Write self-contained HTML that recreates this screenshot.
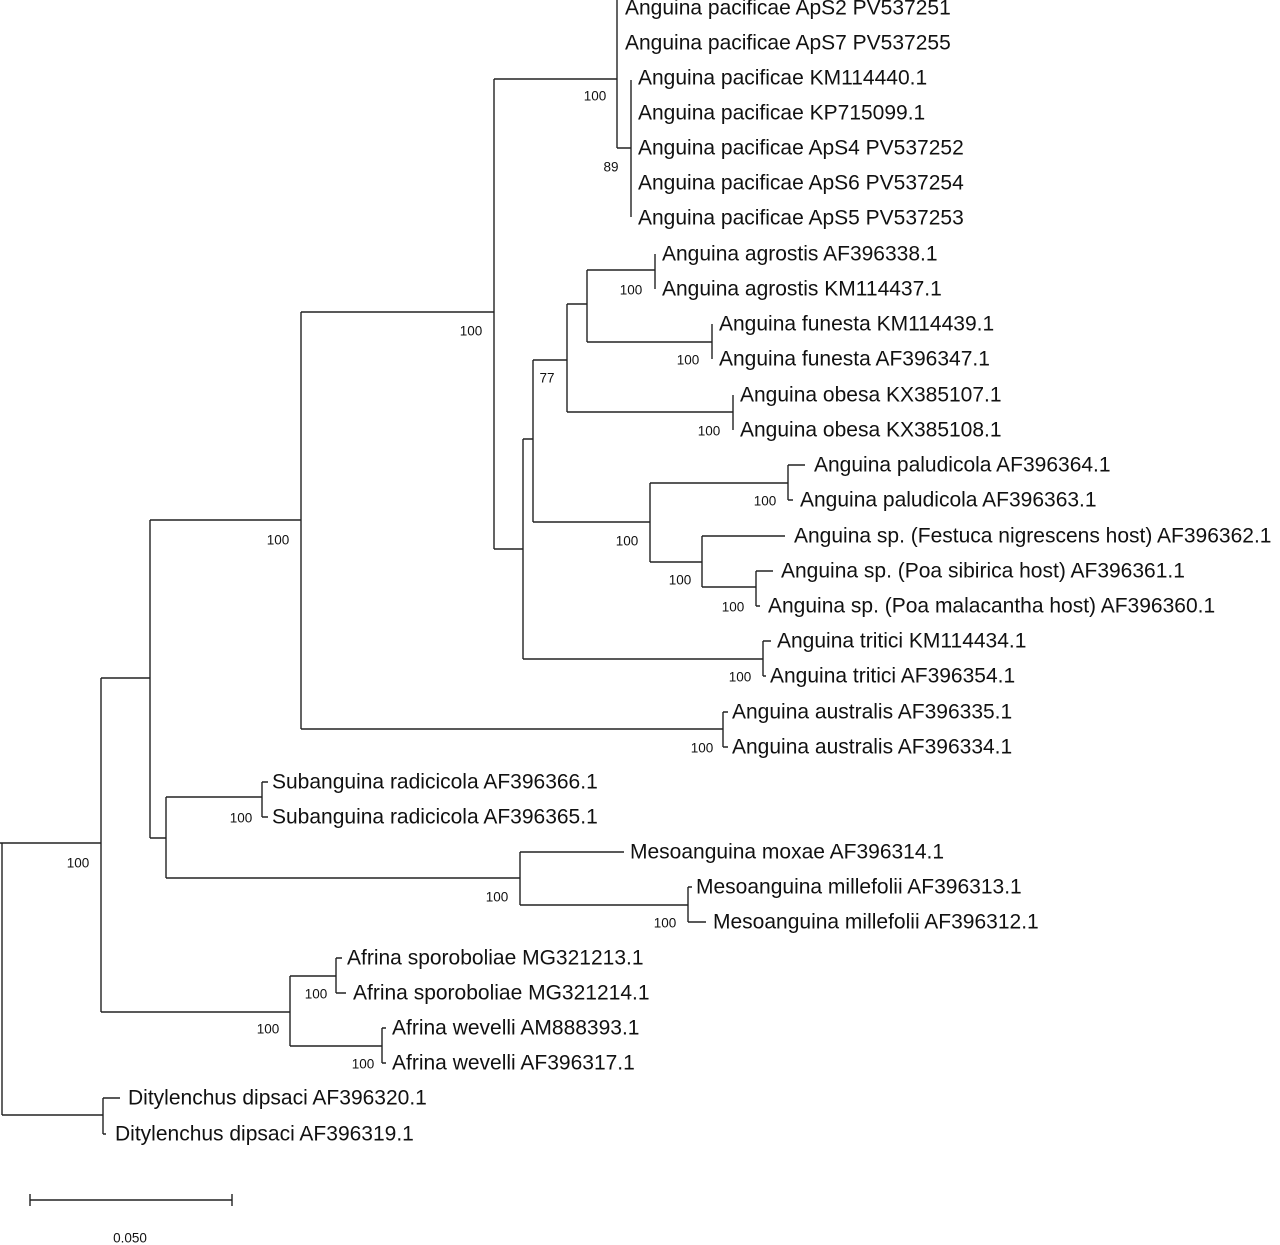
<!DOCTYPE html>
<html><head><meta charset="utf-8"><style>
html,body{margin:0;padding:0;background:#fff;}
svg{display:block;}
.l{font-family:"Liberation Sans",Arial,sans-serif;font-size:21px;fill:#111;dominant-baseline:central;}
.s{font-family:"Liberation Sans",Arial,sans-serif;font-size:13.5px;fill:#111;dominant-baseline:central;}
</style></head><body>
<svg width="1280" height="1245" viewBox="0 0 1280 1245" xmlns="http://www.w3.org/2000/svg">
<g stroke="#222" stroke-width="1.4" fill="none">
<path d="M2 843V1115M0 843H101M2 1115H103"/>
<path d="M101 678V1012M101 678H150M101 1012H290"/>
<path d="M150 520V838M150 520H301M150 838H166"/>
<path d="M166 797V878M166 797H262M166 878H520"/>
<path d="M262 782V817M262 782H268M262 817H268"/>
<path d="M520 852V905M520 852H624M520 905H688"/>
<path d="M688 887V922M688 887H692M688 922H706"/>
<path d="M290 976V1046M290 976H336M290 1046H382"/>
<path d="M336 958V993M336 958H342M336 993H346"/>
<path d="M382 1028V1063M382 1028H386M382 1063H386"/>
<path d="M103 1098V1134M103 1098H120M103 1134H106"/>
<path d="M301 312V729M301 312H494M301 729H723"/>
<path d="M723 712V747M723 712H728M723 747H728"/>
<path d="M494 79V549M494 79H617M494 549H523"/>
<path d="M617 0V148M617 148H631M631 80V217"/>
<path d="M523 439V659M523 439H533M523 659H763"/>
<path d="M763 641V676M763 641H771M763 676H766"/>
<path d="M533 360V522M533 360H567M533 522H650"/>
<path d="M567 304V412M567 304H587M567 412H733"/>
<path d="M587 270V342M587 270H655M587 342H712"/>
<path d="M655 254V289M712 324V359M733 395V430"/>
<path d="M650 483V562M650 483H788M650 562H702"/>
<path d="M788 465V500M788 465H805M788 500H793"/>
<path d="M702 536V587M702 536H785M702 587H756"/>
<path d="M756 571V606M756 571H773M756 606H760"/>
<path d="M30 1200H232M30 1194V1206M232 1194V1206"/>
</g>
<g class="l">
<text x="625" y="8">Anguina pacificae ApS2 PV537251</text>
<text x="625" y="43">Anguina pacificae ApS7 PV537255</text>
<text x="638" y="78">Anguina pacificae KM114440.1</text>
<text x="638" y="113">Anguina pacificae KP715099.1</text>
<text x="638" y="148">Anguina pacificae ApS4 PV537252</text>
<text x="638" y="183">Anguina pacificae ApS6 PV537254</text>
<text x="638" y="218">Anguina pacificae ApS5 PV537253</text>
<text x="662" y="254">Anguina agrostis AF396338.1</text>
<text x="662" y="289">Anguina agrostis KM114437.1</text>
<text x="719" y="324">Anguina funesta KM114439.1</text>
<text x="719" y="359">Anguina funesta AF396347.1</text>
<text x="740" y="395">Anguina obesa KX385107.1</text>
<text x="740" y="430">Anguina obesa KX385108.1</text>
<text x="814" y="465">Anguina paludicola AF396364.1</text>
<text x="800" y="500">Anguina paludicola AF396363.1</text>
<text x="794" y="536">Anguina sp. (Festuca nigrescens host) AF396362.1</text>
<text x="781" y="571">Anguina sp. (Poa sibirica host) AF396361.1</text>
<text x="768" y="606">Anguina sp. (Poa malacantha host) AF396360.1</text>
<text x="777" y="641">Anguina tritici KM114434.1</text>
<text x="770" y="676">Anguina tritici AF396354.1</text>
<text x="732" y="712">Anguina australis AF396335.1</text>
<text x="732" y="747">Anguina australis AF396334.1</text>
<text x="272" y="782">Subanguina radicicola AF396366.1</text>
<text x="272" y="817">Subanguina radicicola AF396365.1</text>
<text x="630" y="852">Mesoanguina moxae AF396314.1</text>
<text x="696" y="887">Mesoanguina millefolii AF396313.1</text>
<text x="713" y="922">Mesoanguina millefolii AF396312.1</text>
<text x="347" y="958">Afrina sporoboliae MG321213.1</text>
<text x="353" y="993">Afrina sporoboliae MG321214.1</text>
<text x="392" y="1028">Afrina wevelli AM888393.1</text>
<text x="392" y="1063">Afrina wevelli AF396317.1</text>
<text x="128" y="1098">Ditylenchus dipsaci AF396320.1</text>
<text x="115" y="1134">Ditylenchus dipsaci AF396319.1</text>
</g>
<g class="s" text-anchor="middle">
<text x="595" y="96">100</text>
<text x="611" y="167">89</text>
<text x="631" y="290">100</text>
<text x="688" y="360">100</text>
<text x="547" y="378">77</text>
<text x="709" y="431">100</text>
<text x="471" y="331">100</text>
<text x="765" y="501">100</text>
<text x="627" y="541">100</text>
<text x="680" y="580">100</text>
<text x="733" y="607">100</text>
<text x="740" y="677">100</text>
<text x="702" y="748">100</text>
<text x="278" y="540">100</text>
<text x="241" y="818">100</text>
<text x="497" y="897">100</text>
<text x="665" y="923">100</text>
<text x="316" y="994">100</text>
<text x="268" y="1029">100</text>
<text x="363" y="1064">100</text>
<text x="78" y="863">100</text>
<text x="130" y="1238">0.050</text>
</g>
</svg>
</body></html>
